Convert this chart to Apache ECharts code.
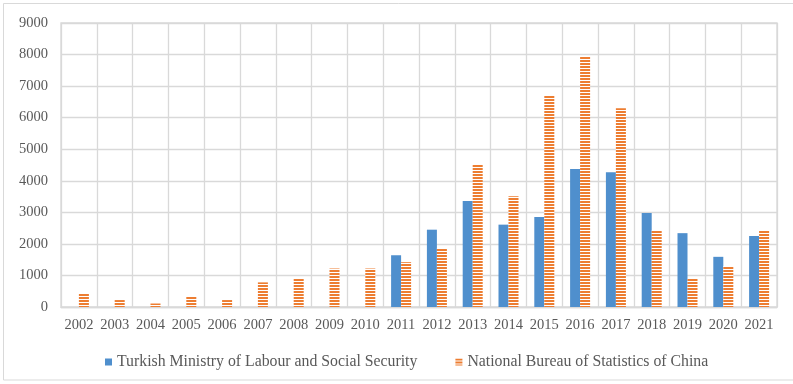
<!DOCTYPE html>
<html>
<head>
<meta charset="utf-8">
<script src="https://cdn.jsdelivr.net/npm/echarts@6/dist/echarts.min.js"></script>
<style>
  html, body { margin: 0; padding: 0; background: #fff; }
  #chart { width: 793px; height: 384px; }
</style>
</head>
<body>
<div id="chart"></div>
<script>
// 年份
const years = ['2002', '2003', '2004', '2005', '2006', '2007', '2008', '2009', '2010', '2011',
  '2012', '2013', '2014', '2015', '2016', '2017', '2018', '2019', '2020', '2021']
// 土耳其劳工和社会保障部
const turkishValues = [null, null, null, null, null, null, null, null, null, 1640,
  2450, 3360, 2610, 2850, 4370, 4270, 2980, 2340, 1590, 2250]
// 中国国家统计局
const chinaValues = [420, 220, 110, 330, 220, 780, 900, 1220, 1220, 1420,
  1870, 4520, 3510, 6710, 7940, 6300, 2430, 890, 1300, 2430]
const seriesNames = ['Turkish Ministry of Labour and Social Security', 'National Bureau of Statistics of China']

// 横条纹填充
function stripePattern() {
  const c = document.createElement('canvas')
  c.width = 8
  c.height = 3
  const ctx = c.getContext('2d')
  ctx.fillStyle = '#fff'
  ctx.fillRect(0, 0, 8, 3)
  ctx.fillStyle = '#ED7D31'
  ctx.fillRect(0, 0, 8, 2)
  return c
}

const gridColor = '#D9D9D9'
const textColor = '#595959'
const fontFamily = '"Liberation Serif", "Times New Roman", serif'

const myChart = echarts.init(document.getElementById('chart'), null, { renderer: 'canvas' })
const option = {
  animation: false,
  backgroundColor: '#fff',
  graphic: [
    {
      type: 'rect',
      shape: { x: 3.5, y: 3.5, width: 800, height: 376.5 },
      style: { fill: 'none', stroke: '#D9D9D9', lineWidth: 1 },
      silent: true
    }
  ],
  grid: {
    left: 61,
    right: 16,
    top: 23,
    bottom: 77,
    show: true,
    borderColor: gridColor,
    borderWidth: 1.3
  },
  legend: {
    data: seriesNames,
    left: 100,
    top: 349,
    itemWidth: 7,
    itemHeight: 7,
    itemGap: 38,
    icon: 'rect',
    textStyle: {
      color: textColor,
      fontFamily: fontFamily,
      fontSize: 15.8
    }
  },
  xAxis: {
    type: 'category',
    data: years,
    axisLine: { show: true, lineStyle: { color: gridColor, width: 1.3 } },
    axisTick: { show: false },
    splitLine: { show: true, lineStyle: { color: gridColor, width: 1.3 } },
    axisLabel: {
      color: textColor,
      fontFamily: fontFamily,
      fontSize: 14.5,
      margin: 11,
      interval: 0
    }
  },
  yAxis: {
    type: 'value',
    min: 0,
    max: 9000,
    interval: 1000,
    axisLine: { show: false },
    axisTick: { show: false },
    splitLine: { lineStyle: { color: gridColor, width: 1.3 } },
    axisLabel: {
      color: textColor,
      fontFamily: fontFamily,
      fontSize: 14.5,
      margin: 13,
      formatter: (v) => String(v)
    }
  },
  series: [
    {
      name: seriesNames[0],
      type: 'bar',
      barWidth: 10,
      barGap: 0,
      itemStyle: { color: '#4F8FCD' },
      data: turkishValues
    },
    {
      name: seriesNames[1],
      type: 'bar',
      barWidth: 10,
      itemStyle: { color: { image: stripePattern(), repeat: 'repeat' } },
      data: chinaValues
    }
  ]
}
myChart.setOption(option)
</script>
</body>
</html>
